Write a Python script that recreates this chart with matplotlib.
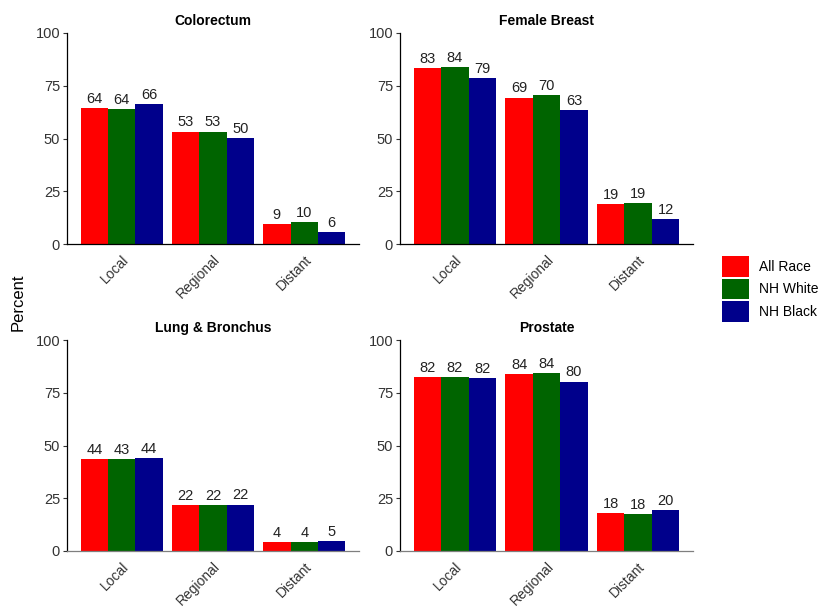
import matplotlib.pyplot as plt
from matplotlib.patches import Patch
import numpy as np

plt.rcParams['font.family'] = ['Liberation Sans', 'DejaVu Sans']

stages = ['Local', 'Regional', 'Distant']
races = ['All Race', 'NH White', 'NH Black']
colors = ['#FF0000', '#006400', '#00008B']

# percent surviving, by stage, one list per race group
colorectum = [[64.4, 53.3, 9.4], [63.9, 53.3, 10.4], [66.3, 50.3, 5.7]]
female_breast = [[83.3, 69.4, 18.8], [83.9, 70.4, 19.4], [78.6, 63.3, 11.9]]
lung_bronchus = [[43.7, 21.9, 4.2], [43.4, 21.8, 4.1], [44.2, 22.0, 4.9]]
prostate = [[82.4, 84.0, 18.2], [82.4, 84.4, 17.6], [82.1, 80.3, 19.6]]

panels = [
    ('Colorectum', colorectum, [67, 33, 359, 244]),
    ('Female Breast', female_breast, [400, 33, 693, 244]),
    ('Lung & Bronchus', lung_bronchus, [67, 340, 359, 551]),
    ('Prostate', prostate, [400, 340, 693, 551]),
]

W, H = 820, 607
fig = plt.figure(figsize=(W / 100, H / 100), dpi=100)

x = np.arange(len(stages))
bw = 0.3
for i, (title, data, box) in enumerate(panels):
    x0, y0, x1, y1 = box
    ax = fig.add_axes([x0 / W, 1 - y1 / H, (x1 - x0) / W, (y1 - y0) / H])
    for j, vals in enumerate(data):
        pos = x + (j - 1) * bw
        ax.bar(pos, vals, width=bw, color=colors[j], linewidth=0)
        for p, v in zip(pos, vals):
            ax.annotate(f'{v:.0f}', (p, v), xytext=(0, 1.5), textcoords='offset points',
                        ha='center', va='bottom', fontsize=10.5, color='#222222')
    ax.set_xlim(-0.6, 2.6)
    ax.set_ylim(0, 100)
    ax.set_yticks([0, 25, 50, 75, 100])
    ax.set_xticks(x)
    ax.set_xticklabels(stages, rotation=45, ha='right', va='top',
                       rotation_mode='anchor', fontsize=10, color='#333333')
    ax.tick_params(axis='x', length=0, pad=6)
    ax.tick_params(axis='y', length=3, width=0.8, color='#333333',
                   labelsize=10.5, labelcolor='#333333', pad=2)
    for s in ['top', 'right']:
        ax.spines[s].set_visible(False)
    ax.spines['left'].set_linewidth(0.9)
    ax.spines['bottom'].set_linewidth(0.9)
    if i >= 2:
        ax.spines['bottom'].set_color('#7F7F7F')
    ax.set_title(title, fontsize=10, fontweight='bold', pad=6)

fig.text(18 / W, 1 - 302 / H, 'Percent', rotation=90, ha='center', va='center',
         fontsize=12)

handles = [Patch(facecolor=c, edgecolor='none') for c in colors]
fig.legend(handles, races, loc='center left', bbox_to_anchor=(710 / W, 1 - 289 / H),
           frameon=False, fontsize=10, handlelength=1.9, handleheight=1.9,
           labelspacing=0.15, handletextpad=0.7)

fig.savefig('out.png', dpi=100)
